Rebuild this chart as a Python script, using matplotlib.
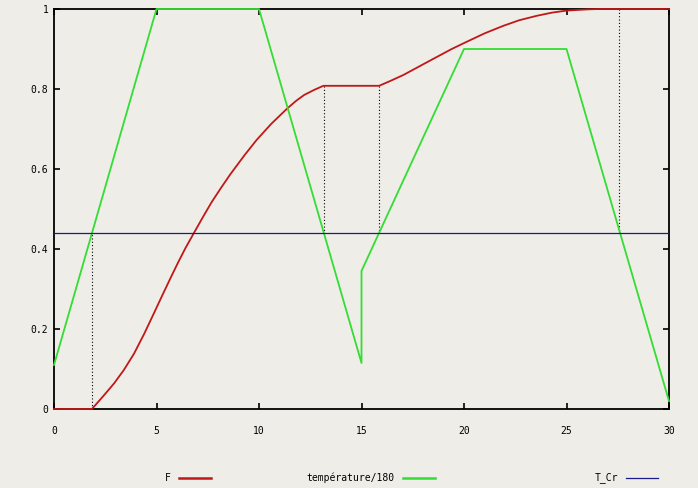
import numpy as np
import matplotlib
matplotlib.use('Agg')
import matplotlib.pyplot as plt
from matplotlib.lines import Line2D

# temperature / 180 (piecewise linear profile)
t_temp = [0, 5, 10, 15, 15, 20, 25, 30]
temp = [0.11, 1.0, 1.0, 0.115, 0.345, 0.9, 0.9, 0.02]

# F
t_F = [0, 1.85, 2.4, 2.93, 3.4, 3.9, 4.4, 4.88, 5.3, 5.69, 6.05, 6.42, 6.88,
       7.3, 7.7, 8.15, 8.59, 9.3, 9.89, 10.6, 11.35, 11.8, 12.2, 12.7, 13.14,
       15.86, 16.4, 17.04, 17.8, 18.67, 19.4, 20.13, 21.0, 21.92, 22.7, 23.55,
       24.3, 25.0, 26.0, 26.6, 30]
F = [0, 0, 0.032, 0.064, 0.097, 0.138, 0.188, 0.24, 0.286, 0.328, 0.366, 0.403, 0.445,
     0.483, 0.518, 0.553, 0.586, 0.635, 0.673, 0.713, 0.75, 0.77, 0.785, 0.798, 0.808,
     0.808, 0.82, 0.835, 0.856, 0.88, 0.90, 0.918, 0.939, 0.958, 0.972, 0.983,
     0.991, 0.996, 0.999, 1.0, 1.0]

T_Cr = 0.44
cross_t = [1.85, 13.15, 15.86, 27.58]

xticks = [0, 5, 10, 15, 20, 25, 30]
yticks = [0, 0.2, 0.4, 0.6, 0.8, 1]
ylabels = ['0', '0.2', '0.4', '0.6', '0.8', '1']

bg = '#efede7'
c_F = '#c01818'
c_temp = '#33dd33'
c_cr = '#1a1a8c'

W, H = 698, 488
fig = plt.figure(figsize=(W / 100, H / 100), dpi=100, facecolor=bg)
ax = fig.add_axes([54 / W, 1 - 409 / H, 615 / W, 400 / H], facecolor=bg)

font = dict(family='DejaVu Sans Mono', size=7)

ax.vlines(cross_t, np.interp(cross_t, t_F, F), T_Cr, colors='black',
          linestyles=(0, (1, 2)), linewidth=0.8, zorder=2.6)
ax.plot(t_F, F, color=c_F, lw=1.3, zorder=3, clip_on=False)
ax.plot(t_temp, temp, color=c_temp, lw=1.3, zorder=3, clip_on=False)
ax.axhline(T_Cr, color=c_cr, lw=0.9, zorder=3)

ax.set_xlim(0, 30)
ax.set_ylim(0, 1)
ax.set_xticks(xticks)
ax.set_xticklabels([str(v) for v in xticks], **font)
ax.set_yticks(yticks)
ax.set_yticklabels(ylabels, **font)
ax.tick_params(direction='in', length=4, width=1.2, top=True, right=True,
               labelcolor='black')
ax.tick_params(axis='x', pad=12)
ax.tick_params(axis='y', pad=4)
for s in ax.spines.values():
    s.set_linewidth(1.3)
    s.set_zorder(2.5)

# legend under the plot, gnuplot style: label then sample line
legend = [('F', c_F, 171), ('température/180', c_temp, 395), ('T_Cr', c_cr, 618)]
ly = 1 - 478 / H
for label, col, xr in legend:
    fig.text(xr / W, ly, label, ha='right', va='center', **font)
    lw = 0.9 if col == c_cr else 1.8
    fig.add_artist(Line2D([(xr + 8) / W, (xr + 40) / W], [ly, ly], color=col,
                          lw=lw, transform=fig.transFigure))

fig.savefig('out.png', dpi=100, facecolor=bg)
